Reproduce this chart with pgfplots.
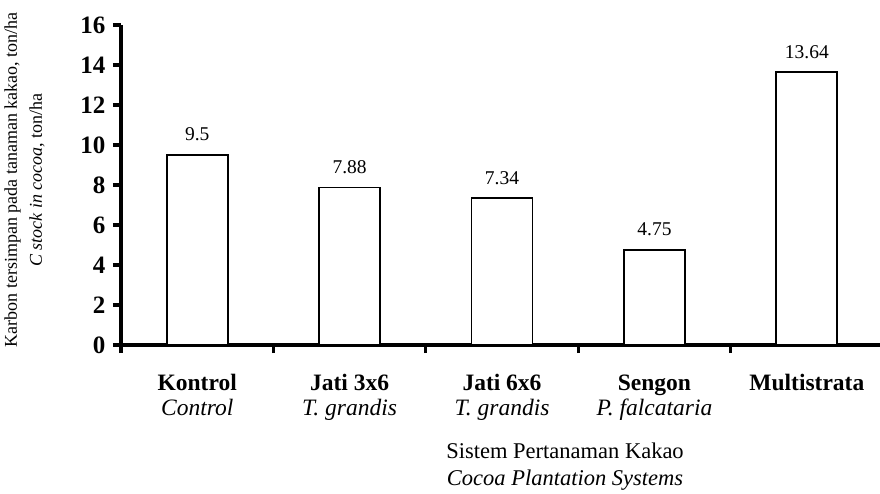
\documentclass[border=0pt]{standalone}
\usepackage{fontspec}
\setmainfont{Liberation Serif}
\usepackage{pgfplots}
\pgfplotsset{compat=1.18}
\begin{document}
\begin{tikzpicture}
\begin{axis}[
  at={(0,0)}, anchor=south west,
  scale only axis, width=759pt, height=320pt,
  xmin=0, xmax=4.98, ymin=0, ymax=16,
  axis x line*=bottom, axis y line*=left,
  axis line style={line width=3.5pt, black},
  xtick={0,1,2,3,4}, xticklabels={},
  ytick={0,2,...,16},
  tick align=outside, major tick length=8pt,
  tick style={line width=3.2pt, black},
  /pgf/number format/assume math mode=true,
  yticklabel style={font=\fontsize{25}{27}\selectfont\bfseries, xshift=-4pt},
  extra x ticks={0.5,1.5,2.5,3.5,4.5},
  extra x tick labels={{\textbf{Kontrol}\\\textit{Control}},{\textbf{Jati 3x6}\\\textit{T. grandis}},{\textbf{Jati 6x6}\\\textit{T. grandis}},{\textbf{Sengon}\\\textit{P. falcataria}},{\textbf{Multistrata}}},
  extra x tick style={major tick length=0pt, tick label style={align=center, font=\fontsize{23.5}{25}\selectfont, yshift=-26pt}},
  ylabel={Karbon tersimpan pada tanaman kakao, ton/ha\\\textit{C stock in cocoa}, ton/ha},
  ylabel style={at={(axis description cs:-0.1271,0.516)}, anchor=center, align=center, font=\fontsize{18}{25}\selectfont},
  xlabel={Sistem Pertanaman Kakao\\\textit{Cocoa Plantation Systems}},
  xlabel style={at={(axis description cs:0.585,0)}, anchor=north, yshift=-94pt, align=center, font=\fontsize{22.5}{27}\selectfont},
]
\addplot[ybar, bar width=61pt, fill=white, draw=black, line width=1.8pt,
  nodes near coords, point meta=explicit symbolic,
  nodes near coords style={font=\fontsize{19.5}{22}\selectfont, anchor=south, yshift=9.5pt}]
  coordinates {(0.5,9.5) [9.5] (1.5,7.88) [7.88] (2.5,7.34) [7.34] (3.5,4.75) [4.75] (4.5,13.64) [13.64]};
\end{axis}
\pgfresetboundingbox
\path[use as bounding box] (-121pt,-148pt) rectangle (759pt,345pt);
\end{tikzpicture}
\end{document}
